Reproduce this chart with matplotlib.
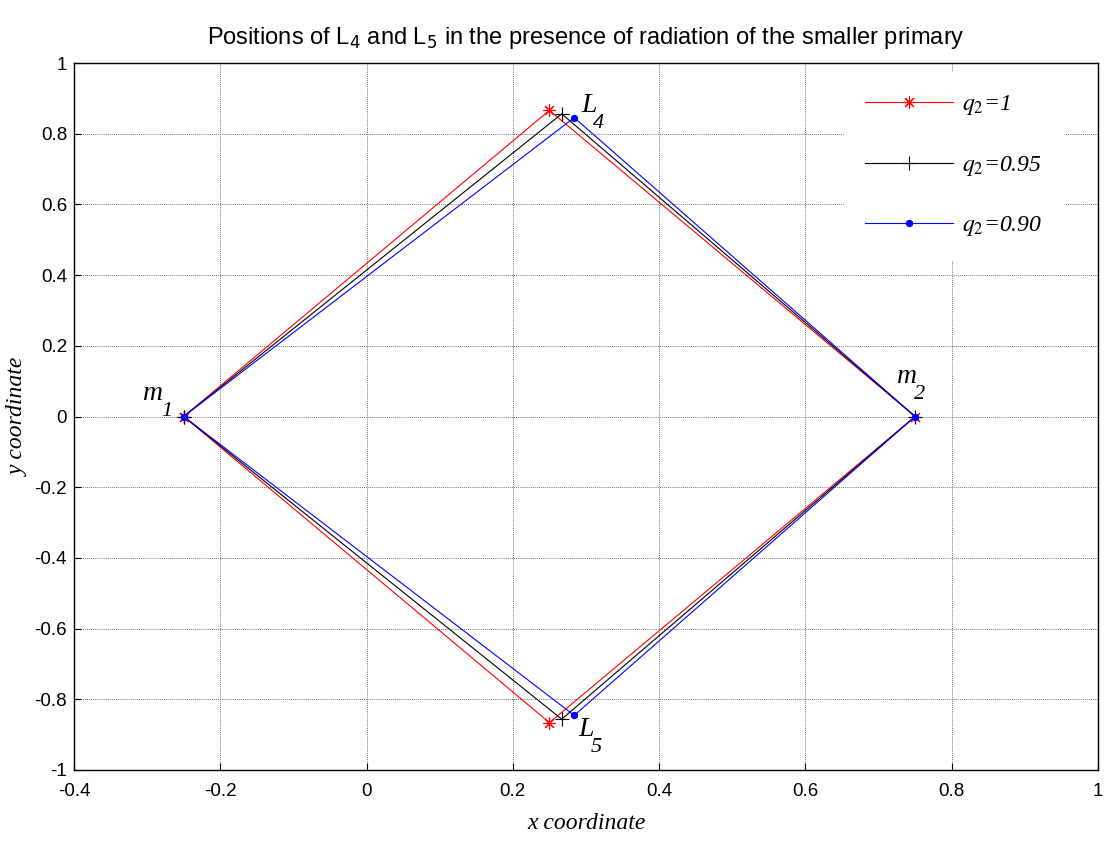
import matplotlib
matplotlib.use("Agg")
import matplotlib.pyplot as plt

# Positions of the primaries and the triangular points (m1, L4, m2, L5, back to m1)
mu_x_m1 = -0.25
mu_x_m2 = 0.75
labels = ["$q_2$=1", "$q_2$=0.95", "$q_2$=0.90"]
L4_x = [0.25, 0.2668, 0.2839]
L4_y = [0.8660, 0.8561, 0.8455]
colors = ["red", "black", "blue"]
markers = [(8, 2, 0), "+", "."]
marker_sizes = [9, 10, 9]

xticks = [-0.4, -0.2, 0, 0.2, 0.4, 0.6, 0.8, 1]
yticks = [-1, -0.8, -0.6, -0.4, -0.2, 0, 0.2, 0.4, 0.6, 0.8, 1]

fig = plt.figure(figsize=(11.11, 8.41), dpi=100)
ax = fig.add_axes([74 / 1111, 71 / 841, 1024 / 1111, 707 / 841])

for lx, ly, c, m, ms, lab in zip(L4_x, L4_y, colors, markers, marker_sizes, labels):
    xs = [mu_x_m1, lx, mu_x_m2, lx, mu_x_m1]
    ys = [0, ly, 0, -ly, 0]
    ax.plot(xs, ys, color=c, lw=0.8, marker=m, ms=ms, mew=0.8, label=lab)

ax.set_xlim(-0.4, 1)
ax.set_ylim(-1, 1)
ax.set_xticks(xticks)
ax.set_yticks(yticks)
ax.set_xticklabels([f"{t:g}" for t in xticks])
ax.set_yticklabels([f"{t:g}" for t in yticks])
ax.tick_params(direction="in", length=5, width=0.8, labelsize=13.5)
ax.tick_params(axis="x", pad=9)
ax.tick_params(axis="y", pad=5)
for lab in ax.get_xticklabels() + ax.get_yticklabels():
    lab.set_family("Liberation Sans")
ax.grid(True, color="#444444", lw=0.6, ls=(0, (1, 1.5)))
for s in ax.spines.values():
    s.set_linewidth(1.0)

serif_it = dict(family="Liberation Serif", style="italic")


def sub_label(x, y, base, sub, dx=0.0, size=20):
    """Italic label with a large, low subscript placed after it."""
    t = ax.text(x, y, base, fontsize=size, **serif_it)
    ax.annotate(sub, xy=(1, 0), xycoords=t, xytext=(dx, -7),
                textcoords="offset points", fontsize=size * 0.8,
                va="baseline", ha="left", **serif_it)


sub_label(0.293, 0.862, "L", "4", dx=-2.5)
sub_label(0.29, -0.905, "L", "5", dx=-2.5)
sub_label(-0.305, 0.047, "m", "1", dx=-1.5)
sub_label(0.725, 0.095, "m", "2", dx=-2.0)

ax.set_xlabel("x coordinate", fontsize=17, **serif_it)
ax.set_ylabel("y coordinate", fontsize=17, **serif_it)
ax.xaxis.set_label_coords(0.5, -0.061)
ax.yaxis.set_label_coords(-0.044, 0.5)
ax.set_title("Positions of L$_4$ and L$_5$ in the presence of radiation of the smaller primary",
             fontsize=17, family="Liberation Sans", pad=14)

leg = ax.legend(loc="upper right", bbox_to_anchor=(0.978, 1.004), frameon=True,
                handlelength=3.7, labelspacing=1.55, borderpad=0.9, handletextpad=0.4,
                prop=dict(family="Liberation Serif", style="italic", size=17))
leg.get_frame().set_edgecolor("white")
leg.get_frame().set_facecolor("white")
leg.get_frame().set_alpha(1)
leg.get_frame().set_boxstyle("square", pad=0)
for t in leg.get_texts():
    t.set_math_fontfamily("stix")

fig.savefig("out.png", dpi=100)
